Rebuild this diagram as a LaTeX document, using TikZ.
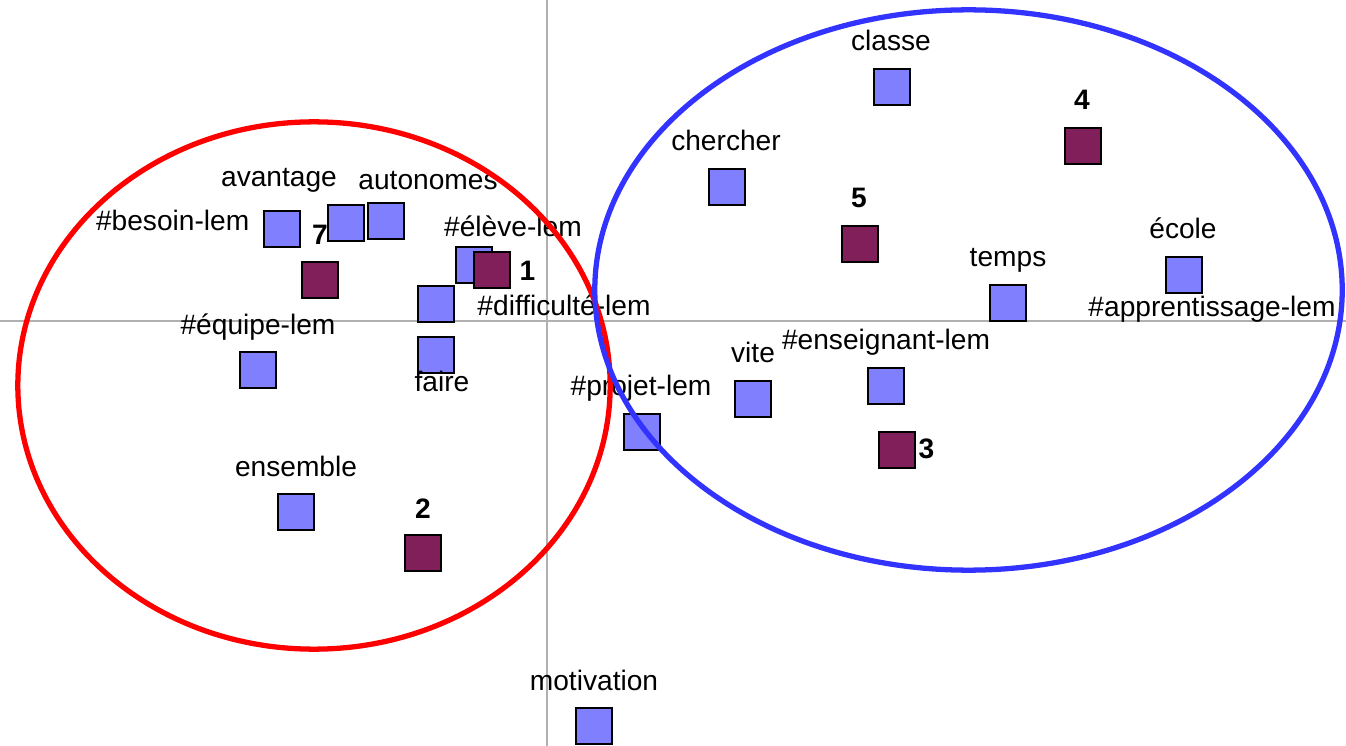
\documentclass[tikz,border=0pt]{standalone}
\usepackage{fontspec}
\setmainfont{Liberation Sans}
\definecolor{termblue}{RGB}{128,128,255}
\definecolor{classmaroon}{RGB}{128,31,90}
\definecolor{clusterred}{RGB}{255,0,0}
\definecolor{clusterblue}{RGB}{51,51,255}
\definecolor{axisgray}{RGB}{176,176,176}

\begin{document}
\begin{tikzpicture}[x=0.01cm, y=-0.01cm,
    term/.style = {draw, line width=0.7pt, fill=termblue, minimum size=0.355cm, inner sep=0pt},
    group/.style = {term, fill=classmaroon},
    word/.style = {font=\fontsize{8}{9}\selectfont, inner sep=0pt, anchor=base},
    num/.style = {word, font=\fontsize{8}{9}\selectfont\bfseries},
    cluster/.style = {line width=1.5pt}]
            \useasboundingbox (0, 0) rectangle (1346, 746);
            \draw[axisgray, line width=0.3pt] (547, 0) -- (547, 746);
            \draw[axisgray, line width=0.3pt] (0, 321) -- (1346, 321);

            \node[term] at (892, 87) (classe) {};
            \node[term] at (727, 187) (chercher) {};
            \node[term] at (282, 229) (besoin) {};
            \node[term] at (346, 223) (avantage) {};
            \node[term] at (386, 221) (autonomes) {};
            \node[term] at (474, 265) (eleve) {};
            \node[term] at (436, 304) (difficulte) {};
            \node[term] at (258, 370) (equipe) {};
            \node[term] at (436, 355) (faire) {};
            \node[term] at (296, 512) (ensemble) {};
            \node[term] at (594, 726) (motivation) {};
            \node[term] at (642, 432) (projet) {};
            \node[term] at (753, 399) (vite) {};
            \node[term] at (886, 386) (enseignant) {};
            \node[term] at (1008, 303) (temps) {};
            \node[term] at (1184, 275) (ecole) {};

            \node[group] at (1083, 146) (g4) {};
            \node[group] at (860, 244) (g5) {};
            \node[group] at (320, 280) (g7) {};
            \node[group] at (492, 270) (g1) {};
            \node[group] at (897, 450) (g3) {};
            \node[group] at (423, 553) (g2) {};

            \node[word] at (891, 51) (lclasse) {classe};
            \node[word] at (726, 151) (lchercher) {chercher};
            \node[word, anchor=base east] at (250, 231) (lbesoin) {\#besoin-lem};
            \node[word] at (279, 187) (lavantage) {avantage};
            \node[word] at (428, 190) (lautonomes) {autonomes};
            \node[word] at (513, 237) (leleve) {\#élève-lem};
            \node[word] at (564, 316) (ldifficulte) {\#difficulté-lem};
            \node[word] at (258, 334) (lequipe) {\#équipe-lem};
            \node[word] at (442, 391) (lfaire) {faire};
            \node[word] at (296, 476) (lensemble) {ensemble};
            \node[word] at (594, 690) (lmotivation) {motivation};
            \node[word] at (641, 396) (lprojet) {\#projet-lem};
            \node[word] at (753, 363) (lvite) {vite};
            \node[word] at (886, 350) (lenseignant) {\#enseignant-lem};
            \node[word] at (1008, 267) (ltemps) {temps};
            \node[word] at (1183, 239) (lecole) {école};
            \node[word] at (1212, 317) (lapprentissage) {\#apprentissage-lem};

            \node[num] at (1082, 110) (l4) {4};
            \node[num] at (859, 208) (l5) {5};
            \node[num] at (320, 245) (l7) {7};
            \node[num, anchor=base west] at (519, 281) (l1) {1};
            \node[num, anchor=base west] at (918, 458) (l3) {3};
            \node[num] at (423, 518) (l2) {2};

            \draw[cluster, clusterred] (314, 385.5) ellipse [x radius=2.96cm, y radius=2.635cm];
            \draw[cluster, clusterblue] (968.5, 290) ellipse [x radius=3.735cm, y radius=2.8cm];
\end{tikzpicture}
\end{document}
